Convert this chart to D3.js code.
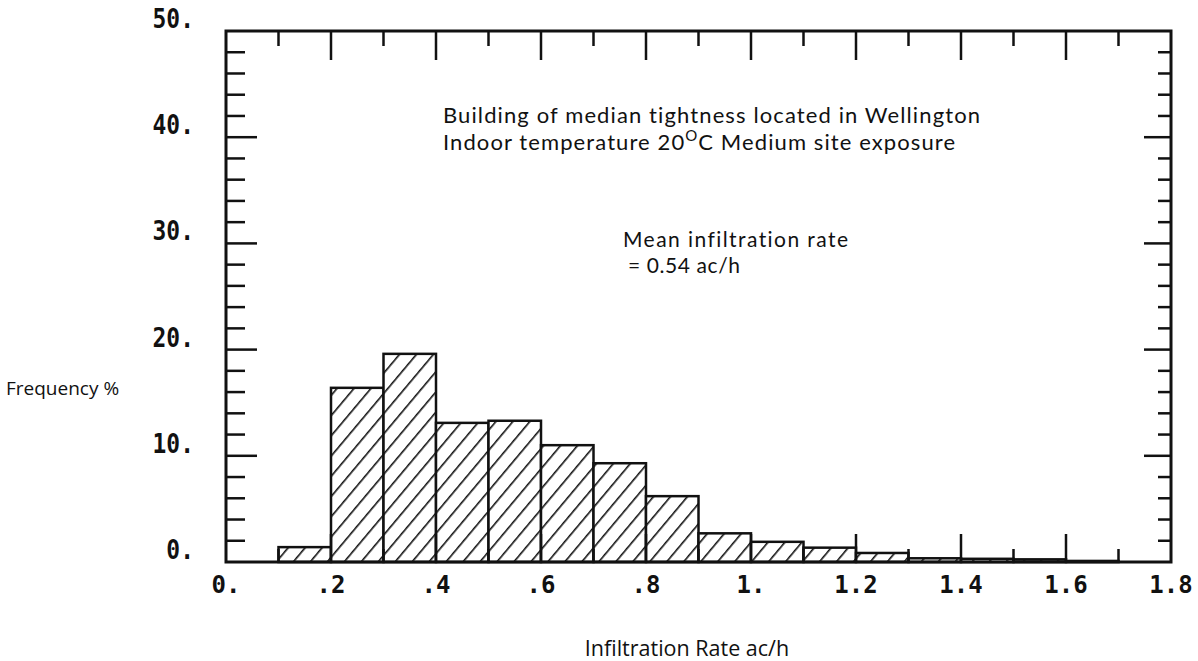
<!DOCTYPE html>
<html lang="en">
<head>
    <title>Infiltration rate histogram</title>
    <meta charset="utf-8">
    <script src="https://d3js.org/d3.v7.min.js"></script>
    <style>
        body { margin: 0; background: #fff; }
        .lbl { font-family: 'Open Sans', sans-serif; fill: #111; }
        .note { font-family: Lato, 'Open Sans', sans-serif; fill: #111; font-variant-ligatures: none; }
        .tick-lbl { font-family: 'DejaVu Sans Mono', monospace; font-weight: bold; fill: #111; }
    </style>
</head>
<body>
<svg id="chart" width="1198" height="661"></svg>
<script>
// bin lower edges (ac/h), each bin 0.1 wide
const binStart = [0.1, 0.2, 0.3, 0.4, 0.5, 0.6, 0.7, 0.8, 0.9, 1.0, 1.1, 1.2, 1.3, 1.4, 1.5, 1.6];
// frequency %
const freq = [1.4, 16.4, 19.6, 13.1, 13.3, 11.0, 9.3, 6.2, 2.7, 1.9, 1.35, 0.85, 0.35, 0.3, 0.25, 0.1];
const xTickLabels = ["0.", ".2", ".4", ".6", ".8", "1.", "1.2", "1.4", "1.6", "1.8"];
const yTickLabels = ["0.", "10.", "20.", "30.", "40.", "50."];
const noteLines = ["Building of median tightness located in Wellington"];
const meanLines = ["Mean infiltration rate", "= 0.54 ac/h"];

let graph = {
    binWidth: 0.1,
    margin: {top: 31, left: 226, right: 1171, bottom: 562}
};

function initializeChart(graph) {
    let m = graph.margin;
    let svg = d3.select("#chart");
    graph.svg = svg;

    graph.xScale = d3.scaleLinear().domain([0, 1.8]).range([m.left, m.right]);
    graph.yScale = d3.scaleLinear().domain([0, 50]).range([m.bottom, m.top]);

    // hatch pattern
    let pat = svg.append("defs").append("pattern")
        .attr("id", "hatch")
        .attr("patternUnits", "userSpaceOnUse")
        .attr("width", 13).attr("height", 13)
        .attr("patternTransform", "rotate(40)");
    pat.append("rect").attr("width", 13).attr("height", 13).attr("fill", "#fff");
    pat.append("line")
        .attr("x1", 0).attr("y1", 0).attr("x2", 0).attr("y2", 13)
        .attr("stroke", "#111").attr("stroke-width", 3.2);
}

function drawChart(graph) {
    let svg = graph.svg, x = graph.xScale, y = graph.yScale, m = graph.margin;

    // bars
    svg.append("g").selectAll("rect")
        .data(binStart)
        .join("rect")
        .attr("x", d => x(d))
        .attr("y", (d, i) => y(freq[i]))
        .attr("width", d => x(d + graph.binWidth) - x(d))
        .attr("height", (d, i) => y(0) - y(freq[i]))
        .attr("fill", "url(#hatch)")
        .attr("stroke", "#111")
        .attr("stroke-width", 2.5);

    // x ticks every 0.1, long on every 0.2 (top: down, bottom: up)
    let xt = d3.range(1, 18).map(i => i / 10);
    let tg = svg.append("g").attr("stroke", "#111").attr("stroke-width", 2.5);
    xt.forEach((v, i) => {
        let major = (i % 2 === 1);
        tg.append("line").attr("x1", x(v)).attr("x2", x(v))
            .attr("y1", m.top).attr("y2", m.top + (major ? 29 : 15));
        tg.append("line").attr("x1", x(v)).attr("x2", x(v))
            .attr("y1", m.bottom).attr("y2", m.bottom - (major ? 28 : 13));
    });
    // y ticks every 2, long every 10
    let yt = d3.range(1, 25).map(i => i * 2);
    yt.forEach(v => {
        let major = (v % 10 === 0);
        tg.append("line").attr("y1", y(v)).attr("y2", y(v))
            .attr("x1", m.left).attr("x2", m.left + (major ? 31 : 19));
        tg.append("line").attr("y1", y(v)).attr("y2", y(v))
            .attr("x1", m.right).attr("x2", m.right - (major ? 27 : 13));
    });

    // frame
    svg.append("rect")
        .attr("x", m.left).attr("y", m.top)
        .attr("width", m.right - m.left).attr("height", m.bottom - m.top)
        .attr("fill", "none").attr("stroke", "#111").attr("stroke-width", 3);

    // tick labels
    svg.append("g").selectAll("text")
        .data(xTickLabels)
        .join("text")
        .attr("class", "tick-lbl")
        .attr("x", (d, i) => x(i * 0.2))
        .attr("y", m.bottom + 31)
        .attr("text-anchor", "middle")
        .attr("font-size", 24)
        .text(d => d);

    svg.append("g").selectAll("text")
        .data(yTickLabels)
        .join("text")
        .attr("class", "tick-lbl")
        .attr("transform", (d, i) => "translate(194," + (y(i * 10) - 3) + ") scale(0.85,1)")
        .attr("text-anchor", "end")
        .attr("font-size", 27)
        .text(d => d);

    // axis titles
    svg.append("text").attr("class", "lbl")
        .attr("x", 6).attr("y", 395).attr("font-size", 19)
        .text("Frequency %");
    svg.append("text").attr("class", "lbl")
        .attr("x", 687).attr("y", 656).attr("font-size", 21.5)
        .attr("text-anchor", "middle")
        .text("Infiltration Rate ac/h");

    // annotations
    svg.append("text").attr("class", "note")
        .attr("x", 443).attr("y", 123).attr("font-size", 22)
        .attr("textLength", 537).attr("lengthAdjust", "spacing")
        .text(noteLines[0]);
    let t2 = svg.append("text").attr("class", "note")
        .attr("x", 443).attr("y", 150).attr("font-size", 22)
        .attr("textLength", 512).attr("lengthAdjust", "spacing");
    t2.append("tspan").text("Indoor temperature 20");
    t2.append("tspan").attr("dy", -9).attr("font-size", 15).text("O");
    t2.append("tspan").attr("dy", 9).text("C Medium site exposure");

    svg.append("g").selectAll("text")
        .data(meanLines)
        .join("text")
        .attr("class", "note")
        .attr("x", (d, i) => i === 0 ? 623 : 628)
        .attr("y", (d, i) => 247 + i * 25.5)
        .attr("font-size", 21)
        .attr("textLength", (d, i) => i === 0 ? 225 : 112)
        .attr("lengthAdjust", "spacing")
        .text(d => d);
}

initializeChart(graph);
drawChart(graph);
</script>
</body>
</html>
